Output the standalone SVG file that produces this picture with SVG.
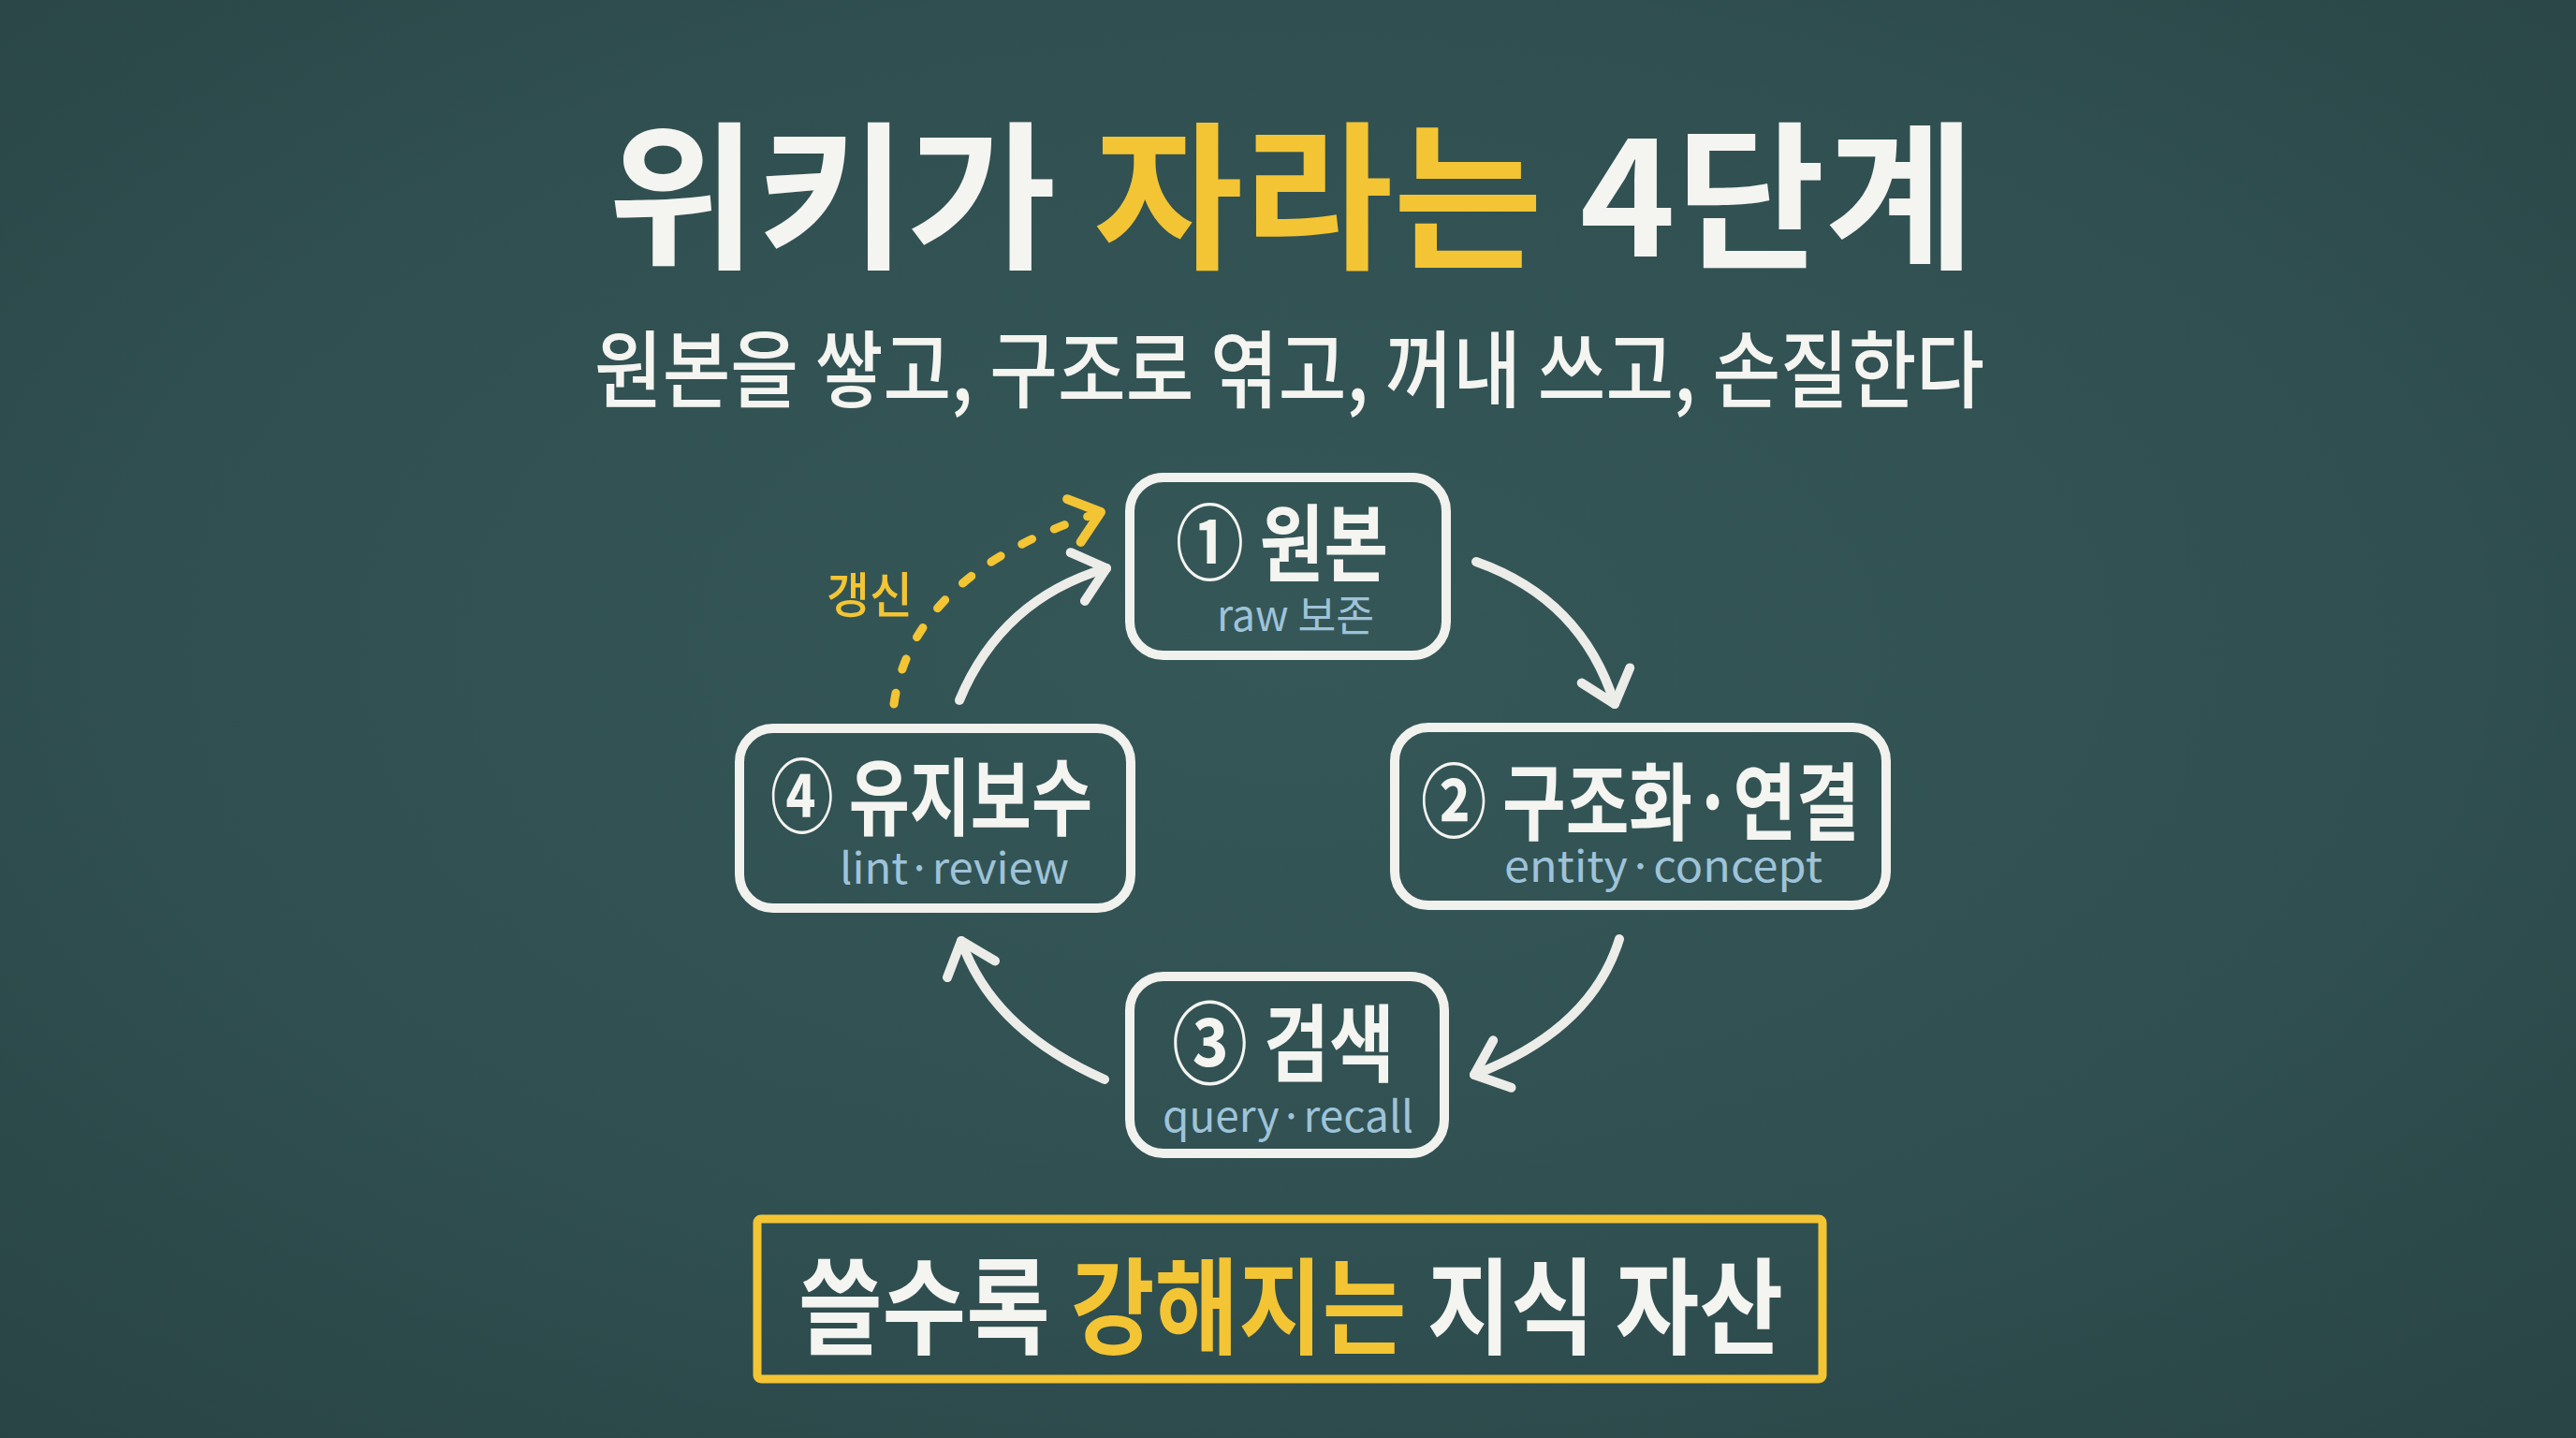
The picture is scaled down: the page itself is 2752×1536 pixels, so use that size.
<svg xmlns="http://www.w3.org/2000/svg" width="2752" height="1536" viewBox="0 0 2752 1536">
<defs>
  <radialGradient id="bg" cx="50%" cy="45%" r="75%">
    <stop offset="0" stop-color="#355758"/>
    <stop offset="0.6" stop-color="#304f50"/>
    <stop offset="1" stop-color="#294445"/>
  </radialGradient>
  <marker id="ahw" markerUnits="userSpaceOnUse" viewBox="-50 -50 100 100" markerWidth="100" markerHeight="100" refX="0" refY="0" orient="auto" overflow="visible">
    <path class="headw" d="M -32 -27 L 0 0 L -32 27"/>
  </marker>
  <marker id="ahy" markerUnits="userSpaceOnUse" viewBox="-50 -50 100 100" markerWidth="100" markerHeight="100" refX="0" refY="0" orient="auto" overflow="visible">
    <path class="heady" d="M -30 -24 L 0 0 L -30 24"/>
  </marker>
</defs>
<style>
  .kr { font-family: "Noto Sans CJK KR", "Noto Sans", sans-serif; }
  .white { fill: #f4f4f0; }
  .yellow { fill: #f3c534; }
  .box { fill: none; stroke: #f1f1ed; stroke-width: 10; }
  .lbl { font-family: "Noto Sans CJK KR", "Noto Sans", sans-serif; font-size: 90px; font-weight: 700; fill: #f4f4f0; }
  .num { font-weight: 700; }
  .sub { font-family: "Noto Sans CJK KR", "Noto Sans", sans-serif; font-size: 46px; font-weight: 400; fill: #9ec3d9; }
  .conn { fill: none; stroke: #ecece8; stroke-width: 10; stroke-linecap: round; }
  .dash { fill: none; stroke: #f3c534; stroke-width: 9; stroke-linecap: round; stroke-dasharray: 12 26; }
  .headw { fill: none; stroke: #ecece8; stroke-width: 10; stroke-linecap: round; stroke-linejoin: round; }
  .heady { fill: none; stroke: #f3c534; stroke-width: 10; stroke-linecap: round; stroke-linejoin: round; }
</style>

<rect x="0" y="0" width="2752" height="1536" fill="url(#bg)"/>

<g id="title">
  <text class="kr" x="649" y="274" font-size="170" font-weight="700" textLength="1461" lengthAdjust="spacingAndGlyphs"><tspan class="white">위키가 </tspan><tspan class="yellow">자라는</tspan><tspan class="white"> 4단계</tspan></text>
</g>

<g id="subtitle">
  <text class="kr white" x="635" y="428" font-size="90" font-weight="500" textLength="1485" lengthAdjust="spacingAndGlyphs">원본을 쌓고, 구조로 엮고, 꺼내 쓰고, 손질한다</text>
</g>

<g id="connectors">
  <path class="conn" d="M 1577 600 Q 1690 640 1725 752" marker-end="url(#ahw)"/>
  <path class="conn" d="M 1730 1003 Q 1700 1100 1575 1148" marker-end="url(#ahw)"/>
  <path class="conn" d="M 1180 1153 Q 1060 1100 1027 1005" marker-end="url(#ahw)"/>
  <path class="conn" d="M 1025 748 Q 1070 640 1182 607" marker-end="url(#ahw)"/>
  <path class="dash" d="M 955 752 C 968 660 1040 590 1176 547" marker-end="url(#ahy)"/>
  <text class="kr yellow" x="883" y="655" font-size="52" font-weight="500" textLength="92" lengthAdjust="spacingAndGlyphs">갱신</text>
</g>

<g id="node1">
  <rect class="box" x="1207" y="510" width="338" height="190" rx="36"/>
  <text class="lbl" x="1256" y="614" textLength="227" lengthAdjust="spacingAndGlyphs"><tspan class="num" font-size="88" dy="-2">①</tspan><tspan dy="2"> 원본</tspan></text>
  <text class="sub" x="1300" y="674" textLength="168" lengthAdjust="spacingAndGlyphs">raw 보존</text>
</g>

<g id="node2">
  <rect class="box" x="1490" y="777" width="525" height="190" rx="36"/>
  <text class="lbl" x="1518" y="890" textLength="469" lengthAdjust="spacingAndGlyphs"><tspan class="num" font-size="86" dy="-2">②</tspan><tspan dy="2"> 구조화·연결</tspan></text>
  <text class="sub" x="1607" y="942" textLength="340" lengthAdjust="spacingAndGlyphs">entity·concept</text>
</g>

<g id="node3">
  <rect class="box" x="1207" y="1043" width="336" height="189" rx="36"/>
  <text class="lbl" x="1252" y="1148" textLength="238" lengthAdjust="spacingAndGlyphs"><tspan class="num" font-size="96" dy="2">③</tspan><tspan dy="-2"> 검색</tspan></text>
  <text class="sub" x="1242" y="1209" textLength="268" lengthAdjust="spacingAndGlyphs">query·recall</text>
</g>

<g id="node4">
  <rect class="box" x="790" y="778" width="418" height="192" rx="36"/>
  <text class="lbl" x="823" y="885" textLength="344" lengthAdjust="spacingAndGlyphs"><tspan class="num" font-size="86" dy="-2">④</tspan><tspan dy="2"> 유지보수</tspan></text>
  <text class="sub" x="897" y="944" textLength="245" lengthAdjust="spacingAndGlyphs">lint·review</text>
</g>

<g id="banner">
  <rect x="809" y="1302" width="1138" height="171" fill="none" stroke="#f3c534" stroke-width="9" rx="4"/>
  <text class="kr" x="853" y="1438" font-size="112" font-weight="700" textLength="1052" lengthAdjust="spacingAndGlyphs"><tspan class="white">쓸수록 </tspan><tspan class="yellow">강해지는</tspan><tspan class="white"> 지식 자산</tspan></text>
</g>
</svg>
